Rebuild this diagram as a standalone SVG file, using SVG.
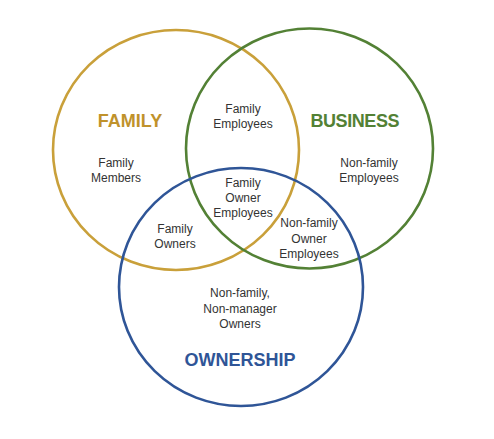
<svg xmlns="http://www.w3.org/2000/svg" width="494" height="439" viewBox="0 0 494 439">
<style>
.c{fill:none;stroke-width:2.6}
.t{font-family:"Liberation Sans",Arial,sans-serif;font-size:12px;fill:#333;text-anchor:middle}
.h{font-family:"Liberation Sans",Arial,sans-serif;font-size:18px;font-weight:bold;text-anchor:middle}
</style>
<rect width="494" height="439" fill="#fff"/>
<g id="family">
<ellipse class="c" cx="176" cy="150" rx="123" ry="120" stroke="#C9A03A"/>
<text class="h" x="130" y="127" fill="#C0922B">FAMILY</text>
</g>
<g id="business">
<ellipse class="c" cx="309.5" cy="148.5" rx="123.5" ry="120" stroke="#538135"/>
<text class="h" x="355" y="127" fill="#538135" textLength="89">BUSINESS</text>
</g>
<g id="ownership">
<ellipse class="c" cx="241" cy="287" rx="122" ry="119" stroke="#2F5597"/>
<text class="h" x="240" y="366" fill="#2F5597">OWNERSHIP</text>
</g>
<g id="labels">
<text class="t" x="243" y="113">Family<tspan x="243" dy="15">Employees</tspan></text>
<text class="t" x="116" y="167">Family<tspan x="116" dy="15">Members</tspan></text>
<text class="t" x="369" y="167">Non-family<tspan x="369" dy="15">Employees</tspan></text>
<text class="t" x="243" y="187">Family<tspan x="243" dy="15">Owner</tspan><tspan x="243" dy="15">Employees</tspan></text>
<text class="t" x="309" y="227">Non-family<tspan x="309" dy="15.5">Owner</tspan><tspan x="309" dy="15.5">Employees</tspan></text>
<text class="t" x="175" y="233">Family<tspan x="175" dy="14.5">Owners</tspan></text>
<text class="t" x="240" y="297">Non-family,<tspan x="240" dy="15.5">Non-manager</tspan><tspan x="240" dy="15.5">Owners</tspan></text>
</g>
</svg>
